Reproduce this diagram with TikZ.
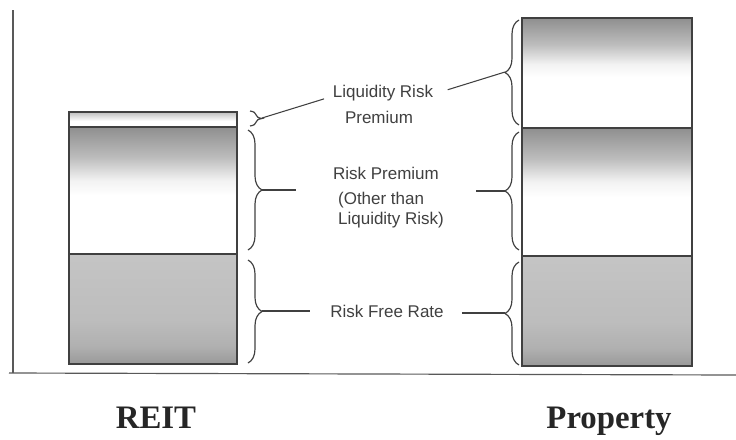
\documentclass[tikz,border=0pt]{standalone}
\usepackage{fontspec}
\setmainfont{Liberation Sans}
\newfontfamily\catfont{Liberation Serif}
\usetikzlibrary{decorations.pathreplacing}

% fills for the bands (bottom -> top, visible part is 25bp..75bp)
\pgfdeclareverticalshading{fadetop}{100bp}{color(0bp)=(white); color(48bp)=(white); color(54bp)=(black!5); color(63bp)=(black!26); color(75bp)=(black!44); color(100bp)=(black!44)}
\pgfdeclareverticalshading{flatbase}{100bp}{color(0bp)=(black!40); color(25bp)=(black!40); color(33bp)=(black!31); color(45bp)=(black!26); color(75bp)=(black!23); color(100bp)=(black!23)}
\pgfdeclareverticalshading{thinband}{100bp}{color(0bp)=(white); color(45bp)=(white); color(75bp)=(black!25); color(100bp)=(black!25)}

\tikzset{
  bar/.style={draw=black!75, line width=1.1pt},
  brc/.style={decorate, decoration={brace, amplitude=#1}, draw=black!75, line width=1pt},
  lead/.style={draw=black!75, line width=0.9pt},
  lbl/.style={text=black!75, font=\fontsize{14.5}{17}\selectfont},
  cat/.style={text=black!85, font=\catfont\bfseries\fontsize{28}{32}\selectfont}
}

\begin{document}
\begin{tikzpicture}[x=0.03cm, y=-0.03cm]
\useasboundingbox (0,0) rectangle (736,439);

% axes
\draw[black!65, line width=1pt] (13,10) -- (13,373);
\draw[black!65, line width=1pt] (9,373) -- (736,375);

% REIT stack
\draw[bar, shading=thinband] (69,112) rectangle (237,127);
\draw[bar, shading=fadetop] (69,127) rectangle (237,254);
\draw[bar, shading=flatbase] (69,254) rectangle (237,364);

% Property stack
\draw[bar, shading=fadetop] (522,18) rectangle (692,128);
\draw[bar, shading=fadetop] (522,128) rectangle (692,256);
\draw[bar, shading=flatbase] (522,256) rectangle (692,366);

% braces
\draw[brc=0.36cm] (250,111) -- (250,126);
\draw[brc=0.42cm] (248,130) -- (248,250);
\draw[brc=0.42cm] (248,260) -- (248,363);
\draw[brc=0.42cm] (519,125) -- (519,20);
\draw[brc=0.42cm] (519,250) -- (519,132);
\draw[brc=0.42cm] (519,365) -- (519,262);

\coordinate (rtip1) at (262,118);
\coordinate (rtip2) at (262,190);
\coordinate (rtip3) at (262,311);
\coordinate (ptip1) at (505,72);
\coordinate (ptip2) at (505,191);
\coordinate (ptip3) at (505,313);

% labels
\node[lbl] (liq) at (383,93) {Liquidity Risk};
\node[lbl] (prem) at (379,117) {Premium};
\node[lbl] (rp) at (386,173) {Risk Premium};
\node[lbl, align=left, anchor=north west] (rpo) at (334,188) {(Other than\\ Liquidity Risk)};
\node[lbl] (rfr) at (387,311) {Risk Free Rate};

\draw[lead, shorten >=0.15cm] (rtip1) -- (liq.base west);
\draw[lead, shorten <=0.33cm] (liq.east) -- (ptip1);
\draw[lead, shorten >=1.0cm] (rtip2) -- (rtip2 -| rp.west);
\draw[lead, shorten <=1.0cm] (ptip2 -| rp.east) -- (ptip2);
\draw[lead, shorten >=0.48cm] (rtip3) -- (rtip3 -| rfr.west);
\draw[lead, shorten <=0.42cm] (ptip3 -| rfr.east) -- (ptip3);

\node[cat] (reit) at (156,418) {REIT};
\node[cat] (prop) at (609,421) {Property};

\end{tikzpicture}
\end{document}
